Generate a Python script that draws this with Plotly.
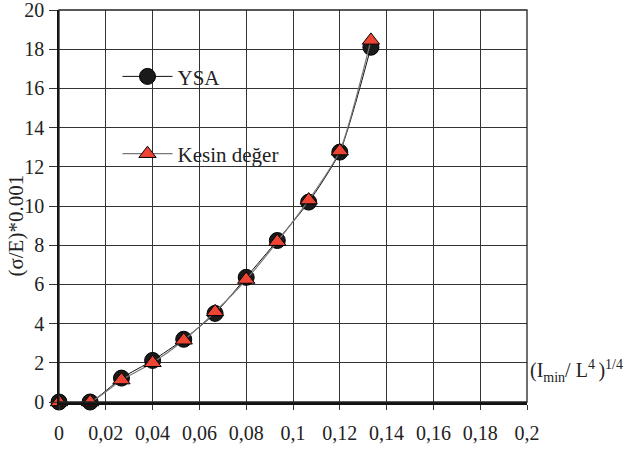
import plotly.graph_objects as go

# ---- data ----
x_vals = [0, 0.0133, 0.0267, 0.04, 0.0533, 0.0667, 0.08, 0.0933, 0.1067, 0.12, 0.1333]
ysa = [0, 0, 1.22, 2.12, 3.2, 4.52, 6.36, 8.24, 10.2, 12.75, 18.1]
kesin = [0, 0, 1.12, 2.0, 3.15, 4.6, 6.25, 8.18, 10.3, 12.8, 18.45]
x_tickvals = [0, 0.02, 0.04, 0.06, 0.08, 0.1, 0.12, 0.14, 0.16, 0.18, 0.2]
x_ticktext = ["0", "0,02", "0,04", "0,06", "0,08", "0,1", "0,12", "0,14", "0,16", "0,18", "0,2"]
y_tickvals = [0, 2, 4, 6, 8, 10, 12, 14, 16, 18, 20]

FONT = "Liberation Serif"

fig = go.Figure()
fig.add_trace(go.Scatter(
    x=x_vals, y=ysa, name="YSA", mode="lines+markers", legendgroup="a",
    line=dict(color="#111111", width=1, shape="spline", smoothing=0.6),
    marker=dict(symbol="circle", size=16, color="#1a1a1a", line=dict(color="#000", width=1)),
    cliponaxis=False,
))
fig.add_trace(go.Scatter(
    x=x_vals, y=kesin, name="Kesin değer", mode="lines+markers", legendgroup="b",
    line=dict(color="#777777", width=1.2, shape="spline", smoothing=0.6),
    marker=dict(symbol="triangle-up", size=15, color="#EE4433", line=dict(color="#000", width=1)),
    cliponaxis=False,
))

fig.update_layout(
    width=629, height=450,
    margin=dict(l=59, r=102, t=10, b=48, autoexpand=False),
    paper_bgcolor="white", plot_bgcolor="white",
    font=dict(family=FONT, size=19, color="#222"),
    showlegend=True,
    legend=dict(
        x=0.125, y=0.882, xanchor="left", yanchor="top",
        bgcolor="rgba(0,0,0,0)", borderwidth=0,
        font=dict(family=FONT, size=21, color="#222"),
        tracegroupgap=47, itemwidth=50,
    ),
    xaxis=dict(
        range=[0, 0.2], tickvals=x_tickvals, ticktext=x_ticktext, automargin=False,
        showgrid=True, gridcolor="#333", gridwidth=1,
        showline=True, linecolor="#111", linewidth=2.5,
        ticks="outside", ticklen=5, tickcolor="#333", tickwidth=1,
        ticklabelstandoff=6, zeroline=False, ticklabeloverflow="allow",
        tickfont=dict(family=FONT, size=20, color="#222"),
    ),
    yaxis=dict(
        range=[0, 20], tickvals=y_tickvals, automargin=False,
        showgrid=True, gridcolor="#333", gridwidth=1,
        showline=True, linecolor="#111", linewidth=1.5,
        ticks="outside", ticklen=8, tickcolor="#333", tickwidth=1,
        zeroline=False, ticklabelstandoff=1, ticklabeloverflow="allow",
        tickfont=dict(family=FONT, size=20, color="#222"),
    ),
    shapes=[
        dict(type="rect", xref="paper", yref="paper", x0=0.0726, x1=0.532, y0=0.528, y1=0.931,
             fillcolor="white", line=dict(width=0), layer="between"),
        dict(type="rect", xref="paper", yref="paper", x0=0, x1=1, y0=0, y1=1,
             fillcolor="rgba(0,0,0,0)", line=dict(color="#222", width=1.3), layer="above"),
    ],
    annotations=[
        dict(text="(σ/E)*0.001", xref="paper", yref="paper", x=-0.092, y=0.45,
             textangle=-90, showarrow=False, font=dict(family=FONT, size=21, color="#222"),
             xanchor="center", yanchor="middle"),
        dict(text="(I<sub>min</sub>/ L<sup>4 </sup>)<sup>1/4</sup>", xref="paper", yref="paper",
             x=1.003, y=0.08, xanchor="left", yanchor="middle", showarrow=False,
             font=dict(family=FONT, size=20, color="#222")),
    ],
)

fig.write_html("out.html", config={"displayModeBar": False},
               post_script="document.body.style.margin='0';")
